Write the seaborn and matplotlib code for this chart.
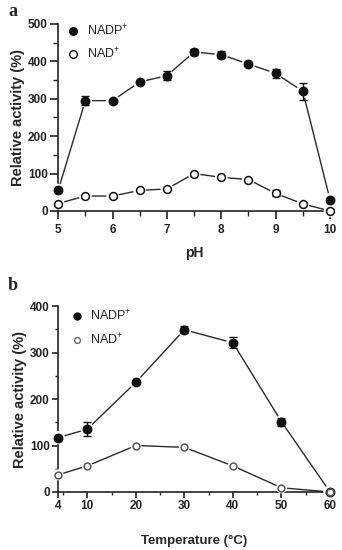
import matplotlib
matplotlib.use("Agg")
import matplotlib.pyplot as plt
from matplotlib.ticker import MultipleLocator, FixedLocator
import pandas as pd
import seaborn as sns

# panel a: pH profile
ph = [5, 5.5, 6, 6.5, 7, 7.5, 8, 8.5, 9, 9.5, 10]
ph_nadp = [55, 295, 295, 345, 362, 425, 418, 393, 368, 320, 30]
ph_nadp_err = [0, 12, 3, 0, 12, 8, 10, 0, 12, 22, 0]
ph_nad = [20, 40, 40, 55, 59, 100, 90, 84, 47, 19, 0]
ph_nad_err = [0, 0, 0, 0, 0, 0, 0, 0, 8, 0, 0]

# panel b: temperature profile
temp = [4, 10, 20, 30, 40, 50, 60]
temp_nadp = [117, 135, 236, 349, 321, 151, 0]
temp_nadp_err = [0, 15, 0, 8, 12, 8, 0]
temp_nad = [37, 56, 100, 96, 56, 9, 0]

sns.set_style("ticks")
plt.rcParams["font.family"] = ["Liberation Sans", "DejaVu Sans"]
plt.rcParams["mathtext.fontset"] = "custom"
plt.rcParams["mathtext.rm"] = "Liberation Sans"

fig = plt.figure(figsize=(3.42, 5.5), dpi=100)
ax1 = fig.add_axes([0.170, 0.6164, 0.795, 0.340])
ax2 = fig.add_axes([0.170, 0.1055, 0.795, 0.338])


def draw(ax, x, y, err, filled, size, edge):
    df = pd.DataFrame({"x": x, "y": y})
    sns.lineplot(data=df, x="x", y="y", ax=ax, color="#2a2a2a", lw=1.0,
                 clip_on=False, zorder=2)
    # white halo gives the small gaps around markers
    sns.scatterplot(data=df, x="x", y="y", ax=ax, s=size * 2.6, color="white",
                    edgecolor="none", clip_on=False, zorder=3)
    if any(err):
        ax.errorbar(x, y, yerr=err, fmt="none", ecolor="#111111", elinewidth=1.0,
                    capsize=3, capthick=1.0, clip_on=False, zorder=4)
    sns.scatterplot(data=df, x="x", y="y", ax=ax, s=size,
                    color="#111111" if filled else "white",
                    edgecolor=edge, linewidth=1.1, clip_on=False, zorder=5)


draw(ax1, ph, ph_nadp, ph_nadp_err, True, 36, "#111111")
draw(ax1, ph, ph_nad, ph_nad_err, False, 32, "#111111")
draw(ax2, temp, temp_nadp, temp_nadp_err, True, 36, "#111111")
draw(ax2, temp, temp_nad, [0] * len(temp), False, 24, "#555555")

ax1.set_xlim(5, 10)
ax1.set_ylim(0, 500)
ax1.set_xticks([5, 6, 7, 8, 9, 10])
ax1.xaxis.set_minor_locator(MultipleLocator(0.5))
ax1.set_yticks([0, 100, 200, 300, 400, 500])
ax1.yaxis.set_minor_locator(MultipleLocator(50))
ax1.set_xlabel("pH", fontsize=10, fontweight="bold", labelpad=7)

ax2.set_xlim(4, 60)
ax2.set_ylim(0, 400)
ax2.set_xticks([4, 10, 20, 30, 40, 50, 60])
ax2.xaxis.set_minor_locator(FixedLocator([5, 15, 25, 35, 45, 55]))
ax2.set_yticks([0, 100, 200, 300, 400])
ax2.yaxis.set_minor_locator(MultipleLocator(50))
ax2.set_xlabel("Temperature (°C)", fontsize=9.5, fontweight="bold", labelpad=16)

for ax, tl in ((ax1, 5.5), (ax2, 4)):
    sns.despine(ax=ax)
    for s in ("left", "bottom"):
        ax.spines[s].set_linewidth(1.2)
        ax.spines[s].set_color("#222222")
    ax.tick_params(which="major", length=tl, width=1.2, direction="out",
                   labelsize=8.5, pad=2, colors="#222222")
    ax.tick_params(which="minor", length=tl * 0.6, width=1.0, direction="out",
                   colors="#222222")
    for t in ax.get_xticklabels() + ax.get_yticklabels():
        t.set_fontweight("bold")
    ax.set_ylabel("Relative activity (%)", fontsize=10.5, fontweight="bold",
                  labelpad=2)
ax1.tick_params(axis="x", which="major", pad=4)

# legends
leg1 = [("NADP$^{+}$", 31, True), ("NAD$^{+}$", 54, False)]
for lab, ypx, filled in leg1:
    fy = 1 - ypx / 550
    fig.lines.append(plt.Line2D([73 / 342], [fy], marker="o", ms=5.5,
                                color="#111111",
                                mfc="#111111" if filled else "white",
                                mew=1.0, transform=fig.transFigure))
    fig.text(87 / 342, fy, lab, fontsize=9, va="center", color="#222222")

leg2 = [("NADP$^{+}$", 316, True, "#111111"), ("NAD$^{+}$", 340, False, "#666666")]
for lab, ypx, filled, ec in leg2:
    fy = 1 - ypx / 550
    fig.lines.append(plt.Line2D([77 / 342], [fy], marker="o", ms=5 if filled else 4.2,
                                color=ec,
                                mfc="#111111" if filled else "white",
                                mew=1.0, transform=fig.transFigure))
    fig.text(90 / 342, fy, lab, fontsize=9, va="center", color="#222222")

fig.text(8 / 342, 1 - 12 / 550, "a", fontsize=13, fontweight="bold",
         family="Liberation Serif", va="center")
fig.text(8 / 342, 1 - 286 / 550, "b", fontsize=13, fontweight="bold",
         family="Liberation Serif", va="center")

fig.savefig("out.png", dpi=100)
